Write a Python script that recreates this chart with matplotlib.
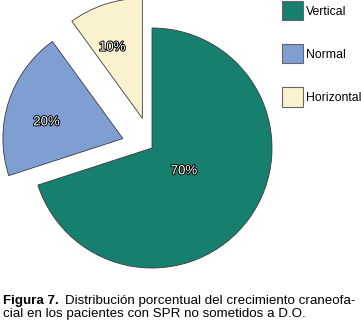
"""Pie chart: distribución porcentual del crecimiento craneofacial."""

import matplotlib
matplotlib.use("Agg")
import matplotlib.pyplot as plt
import matplotlib.patheffects as pe
from matplotlib.patches import Patch
import numpy as np

# ── Data ────────────────────────────────────────────────────────────────────
categories = ["Vertical", "Normal", "Horizontal"]
percentages = [70, 20, 10]
colors = ["#177f6e", "#7f9fd3", "#faf2ce"]
explode = [0.0, 0.255, 0.26]
label_radius = [0.33, 0.65, 0.64]
label_turn = [0, 6, 5]  # degrees, counter-clockwise from the wedge mid-angle

plt.rcParams["font.family"] = ["Liberation Sans", "DejaVu Sans"]

W, H = 361, 324
fig = plt.figure(figsize=(W / 100, H / 100), dpi=100)
ax = fig.add_axes([0, 0, 1, 1])

# pie centre in pixels and radius
cx, cy, R = 152, 148, 120

wedges, _ = ax.pie(
    percentages,
    colors=colors,
    explode=explode,
    startangle=90,
    counterclock=False,
    wedgeprops=dict(edgecolor="#3a3a3a", linewidth=0.6),
)

for w, r, t, p in zip(wedges, label_radius, label_turn, percentages):
    mid = np.deg2rad((w.theta1 + w.theta2) / 2 + t)
    x = w.center[0] + r * np.cos(mid)
    y = w.center[1] + r * np.sin(mid)
    ax.text(x, y, f"{p}%", ha="center", va="center", fontsize=9.5, color="white",
            path_effects=[pe.withStroke(linewidth=1.4, foreground="black")])

ax.set_xlim(-cx / R, (W - cx) / R)
ax.set_ylim(-(H - cy) / R, cy / R)
ax.set_aspect("equal")
ax.axis("off")

# legend with square swatches
handles = [Patch(facecolor=c, edgecolor="#666666", linewidth=0.8) for c in colors]
fig.legend(handles, categories, loc="upper left",
           bbox_to_anchor=(282 / W, 1 - 1 / H), frameon=False, fontsize=8.8,
           handlelength=1.68, handleheight=2.05, handletextpad=0.3,
           labelspacing=1.95, borderpad=0, borderaxespad=0)

# caption
fig.canvas.draw()
renderer = fig.canvas.get_renderer()
bold = fig.text(3 / W, 1 - 304 / H, "Figura 7.", fontsize=9.6, fontweight="bold",
                ha="left", va="baseline")
bb = bold.get_window_extent(renderer)
fig.text((bb.x1 + 6) / W, 1 - 304 / H,
         "Distribución porcentual del crecimiento craneofa-",
         fontsize=9.6, ha="left", va="baseline")
fig.text(3 / W, 1 - 317 / H, "cial en los pacientes con SPR no sometidos a D.O.",
         fontsize=9.6, ha="left", va="baseline")

fig.savefig("out.png", dpi=100)
